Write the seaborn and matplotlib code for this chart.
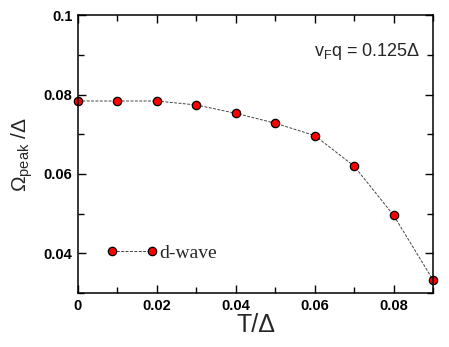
import matplotlib
matplotlib.use("Agg")
import matplotlib.pyplot as plt
import seaborn as sns
import pandas as pd
from matplotlib.ticker import MultipleLocator, FuncFormatter

# data
T_values = [0.0, 0.01, 0.02, 0.03, 0.04, 0.05, 0.06, 0.07, 0.08, 0.09]
omega_peak = [0.0784, 0.0784, 0.0784, 0.0774, 0.0753, 0.0728, 0.0697, 0.0620, 0.0496, 0.0333]
series_label = "d-wave"
x_ticks = [0, 0.02, 0.04, 0.06, 0.08]
y_ticks = [0.04, 0.06, 0.08, 0.1]

sns.set_style("ticks")
plt.rcParams['font.family'] = ['Liberation Sans', 'DejaVu Sans']
plt.rcParams['mathtext.fontset'] = 'custom'
plt.rcParams['mathtext.rm'] = 'Liberation Sans'
plt.rcParams['mathtext.it'] = 'Liberation Sans:italic'

df = pd.DataFrame({"T": T_values, "Omega": omega_peak})

fig = plt.figure(figsize=(4.49, 3.47), dpi=100)
ax = fig.add_axes([0.1737, 0.1556, 0.7907, 0.8003])

sns.lineplot(data=df, x="T", y="Omega", ax=ax, label=series_label,
             color="#444444", linewidth=0.7, linestyle=(0, (3, 1.5)),
             marker="o", markersize=6, markerfacecolor="#ff0000",
             markeredgecolor="black", markeredgewidth=0.9, clip_on=False)

ax.set_xlim(0, 0.09)
ax.set_ylim(0.03, 0.1)
ax.set_xticks(x_ticks)
ax.set_yticks(y_ticks)
ax.xaxis.set_minor_locator(MultipleLocator(0.01))
ax.yaxis.set_minor_locator(MultipleLocator(0.01))
fmt = FuncFormatter(lambda v, p: f"{v:g}")
ax.xaxis.set_major_formatter(fmt)
ax.yaxis.set_major_formatter(fmt)

ax.tick_params(which='both', direction='in', top=True, right=True, width=1.0, colors='black')
ax.tick_params(which='major', length=6, pad=4)
ax.tick_params(which='minor', length=4)
for lbl in ax.get_xticklabels() + ax.get_yticklabels():
    lbl.set_fontweight('bold')
    lbl.set_fontsize(10.5)

for s in ax.spines.values():
    s.set_linewidth(1.1)
    s.set_color('black')

ax.set_xlabel("T/Δ", fontsize=18, labelpad=0)
ax.set_ylabel("Ω$_{\\mathregular{peak}}$ /Δ", fontsize=15, labelpad=6)

ax.text(0.965, 0.87, "v$_{\\mathregular{F}}$q = 0.125Δ", transform=ax.transAxes,
        ha='right', va='center', fontsize=13)

leg = ax.legend(loc='center left', bbox_to_anchor=(0.08, 0.143), bbox_transform=ax.transAxes,
                frameon=False, borderpad=0, borderaxespad=0, handlelength=2.65,
                handletextpad=0.05, numpoints=2,
                prop={'family': 'Liberation Serif', 'size': 14})

fig.savefig("out.png", dpi=100)
